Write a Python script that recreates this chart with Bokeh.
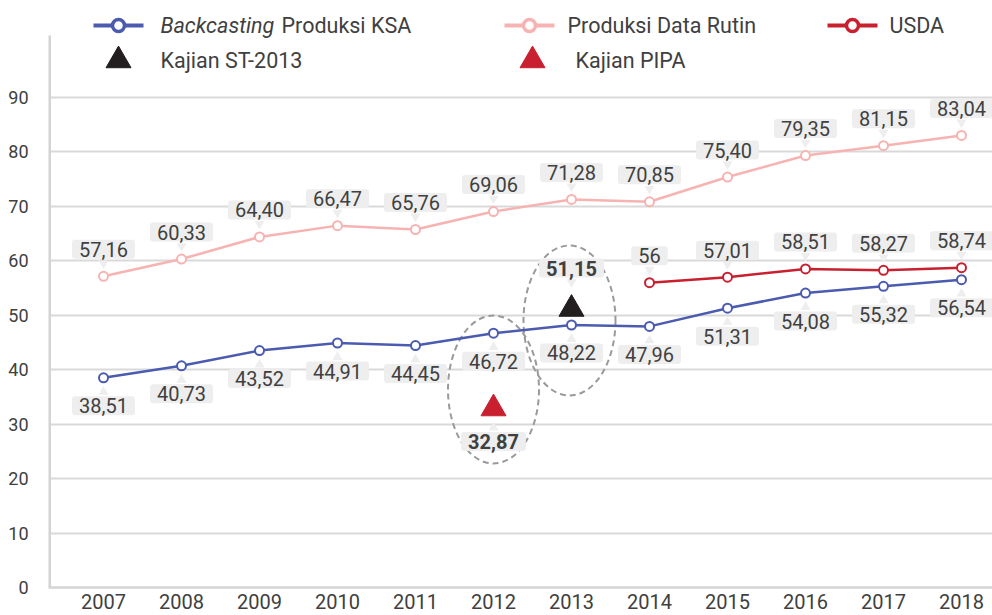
from bokeh.plotting import figure
from bokeh.models import Range1d, FixedTicker
from bokeh.core.properties import value
from bokeh.embed import file_html
from bokeh.resources import INLINE

# ---------------- data ----------------
years = [2007, 2008, 2009, 2010, 2011, 2012, 2013, 2014, 2015, 2016, 2017, 2018]
ksa = [38.51, 40.73, 43.52, 44.91, 44.45, 46.72, 48.22, 47.96, 51.31, 54.08, 55.32, 56.54]
rutin = [57.16, 60.33, 64.40, 66.47, 65.76, 69.06, 71.28, 70.85, 75.40, 79.35, 81.15, 83.04]
usda_years = [2014, 2015, 2016, 2017, 2018]
usda = [56, 57.01, 58.51, 58.27, 58.74]
st_years = [2013]
st_vals = [51.15]
pipa_years = [2012]
pipa_vals = [32.87]
y_ticks = [0, 10, 20, 30, 40, 50, 60, 70, 80, 90]

# ---------------- styles ----------------
FONT = value("Roboto")
TXT = "#404040"
BLUE = "#4a5bb0"
PINK = "#f7b3b1"
RED = "#c8202f"
BLACK = "#231f20"
GRID = "#d9d9d9"
BOX = "#eeeeee"

W, H = 992, 615
FRAME_L, FRAME_B = 48, 28
FRAME_W, FRAME_H = W - FRAME_L, H - FRAME_B
PX_YEAR = 78.0              # pixels per category
X0_PX = 103                 # pixel x of first category
PXU = 5.444                 # pixels per value unit
X_LO = 2007 - (X0_PX - FRAME_L) / PX_YEAR
X_HI = X_LO + FRAME_W / PX_YEAR
Y_HI = FRAME_H / PXU


def xd(px):
    return 2007 + (px - X0_PX) / PX_YEAR


def yd(py):
    return (FRAME_H - py) / PXU


def fmt(v):
    if float(v).is_integer():
        return str(int(v))
    return f"{v:.2f}".replace(".", ",")


p = figure(width=W, height=H, output_backend="svg", toolbar_location=None,
           x_range=Range1d(X_LO, X_HI), y_range=Range1d(0, Y_HI),
           min_border_left=FRAME_L, min_border_right=0, min_border_top=0,
           min_border_bottom=FRAME_B)
p.outline_line_color = None
p.background_fill_color = "white"
p.border_fill_color = "white"

p.xgrid.visible = False
p.ygrid.ticker = FixedTicker(ticks=y_ticks)
p.ygrid.grid_line_color = GRID
p.ygrid.grid_line_width = 2

p.yaxis.ticker = FixedTicker(ticks=y_ticks)
p.yaxis.axis_line_color = None
p.yaxis.major_tick_line_color = None
p.yaxis.minor_tick_line_color = None
p.yaxis.major_tick_out = 0
p.yaxis.major_tick_in = 0
p.yaxis.minor_tick_out = 0
p.yaxis.major_label_text_font = "Roboto"
p.yaxis.major_label_text_font_size = "18px"
p.yaxis.major_label_text_color = TXT
p.yaxis.major_label_standoff = 20

p.xaxis.ticker = FixedTicker(ticks=years)
p.xaxis.axis_line_color = "#d4d4d4"
p.xaxis.axis_line_width = 2.5
p.xaxis.major_tick_line_color = None
p.xaxis.minor_tick_line_color = None
p.xaxis.major_tick_out = 0
p.xaxis.major_tick_in = 0
p.xaxis.minor_tick_out = 0
p.xaxis.major_label_text_font = "Roboto"
p.xaxis.major_label_text_font_size = "20px"
p.xaxis.major_label_text_color = TXT
p.xaxis.major_label_standoff = 6

# left axis line (stops below the legend)
p.segment(x0=[X_LO], y0=[0], x1=[X_LO], y1=[yd(35)], line_color="#d4d4d4", line_width=5)

# dashed ellipses
p.ellipse(x=[xd(493), xd(569)], y=[yd(389), yd(320)], width=[91, 92], height=[148, 150],
          width_units="screen", height_units="screen", fill_color=None,
          line_color="#9a9a9a", line_width=2, line_dash="6 4")

# series
for xs, ys, col in [(years, rutin, PINK), (usda_years, usda, RED), (years, ksa, BLUE)]:
    p.line(xs, ys, line_color=col, line_width=2.5)
    p.scatter(xs, ys, marker="circle", size=9, fill_color="white", line_color=col, line_width=2)

p.scatter(st_years, st_vals, marker="triangle", size=25, fill_color=BLACK, line_color=BLACK)
p.scatter(pipa_years, pipa_vals, marker="triangle", size=25, fill_color=RED, line_color=RED)


# data labels (callout boxes with a small pointer)
def labels(xs, ys, off, bold=False):
    up = off < 0
    ptr_off = off + (14 if up else -14)
    p.scatter(xs, [v - ptr_off / PXU for v in ys],
              marker="inverted_triangle" if up else "triangle",
              size=10, fill_color=BOX, line_color=None)
    p.text(xs, ys, text=[fmt(v) for v in ys], text_font=FONT, text_font_size="20px",
           text_color=TXT, text_align="center", text_baseline="middle",
           text_font_style="bold" if bold else "normal",
           y_offset=off, background_fill_color=BOX,
           padding=dict(left=7, right=7, top=2, bottom=2), border_radius=3)


labels(years, rutin, -27)
labels(usda_years, usda, -27)
labels(years, ksa, 28)
labels(st_years, st_vals, -41, bold=True)
labels(pipa_years, pipa_vals, 33, bold=True)

# legend (positions in pixels)
r1, r2 = yd(25), yd(60)
for (x0, x1, col) in [(93, 143, BLUE), (504, 554, PINK), (827, 877, RED)]:
    p.line([xd(x0), xd(x1)], [r1, r1], line_color=col, line_width=4)
    p.scatter([xd((x0 + x1) / 2)], [r1], marker="circle", size=12, fill_color="white",
              line_color=col, line_width=3.5)
p.scatter([xd(118)], [r2], marker="triangle", size=25, fill_color=BLACK, line_color=BLACK)
p.scatter([xd(532)], [r2], marker="triangle", size=25, fill_color=RED, line_color=RED)

leg = [(160, r1, "Backcasting", "italic"), (281, r1, "Produksi KSA", "normal"),
       (567, r1, "Produksi Data Rutin", "normal"), (889, r1, "USDA", "normal"),
       (160, r2, "Kajian ST-2013", "normal"), (575, r2, "Kajian PIPA", "normal")]
for px, yy, t, st in leg:
    p.text([xd(px)], [yy], text=[t], text_font=FONT, text_font_size="21.5px",
           text_color=TXT, text_align="left", text_baseline="middle", text_font_style=st)

open("out.html", "w").write(file_html(p, INLINE))
